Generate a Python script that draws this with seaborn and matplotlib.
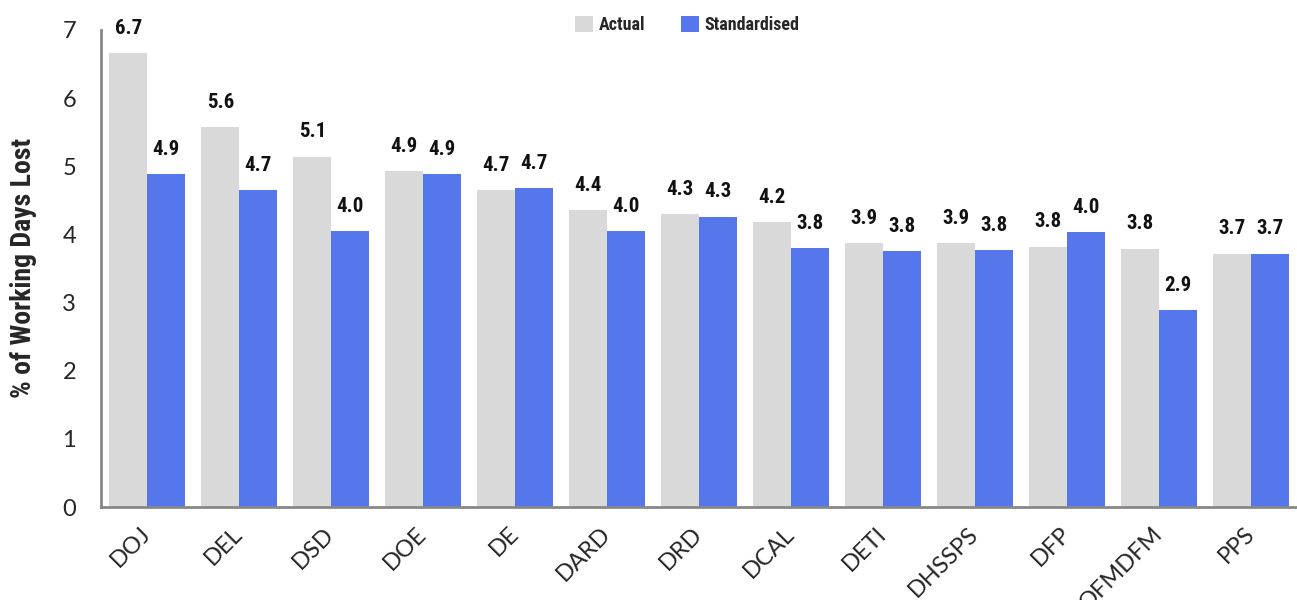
import pandas as pd
import matplotlib.pyplot as plt
import seaborn as sns
from matplotlib import font_manager
from matplotlib.ticker import FixedLocator

# Data
departments = ['DOJ', 'DEL', 'DSD', 'DOE', 'DE', 'DARD', 'DRD', 'DCAL',
               'DETI', 'DHSSPS', 'DFP', 'OFMDFM', 'PPS']
actual = [6.66, 5.57, 5.14, 4.93, 4.65, 4.36, 4.30, 4.18, 3.87, 3.87, 3.82, 3.79, 3.72]
standardised = [4.89, 4.65, 4.05, 4.89, 4.68, 4.05, 4.26, 3.80, 3.75, 3.77, 4.03, 2.89, 3.72]
series_names = ['Actual', 'Standardised']
colours = ['#D9D9D9', '#5677EC']

df = pd.DataFrame({
    'dept': departments * 2,
    'value': actual + standardised,
    'series': [series_names[0]] * len(departments) + [series_names[1]] * len(departments),
})

names = {f.name for f in font_manager.fontManager.ttflist}
narrow = [n for n in ['Roboto Condensed', 'Liberation Sans Narrow'] if n in names] + ['DejaVu Sans']

sns.set_style('white')
plt.rcParams['font.family'] = ['Lato', 'DejaVu Sans']

fig = plt.figure(figsize=(12.97, 6.0), dpi=100)
ax = fig.add_axes([0.078, 0.155, 0.922, 0.795])

sns.barplot(data=df, x='dept', y='value', hue='series', palette=colours,
            width=0.82, saturation=1, gap=0, linewidth=0, ax=ax)

# value labels
for cont in ax.containers:
    ax.bar_label(cont, fmt='%.1f', padding=11, fontsize=15, fontweight='bold',
                 color='#111111', family=narrow, fontstretch='condensed')

ax.set_ylim(0, 7)
ax.set_xlim(-0.5, len(departments) - 0.5)
ax.set_yticks(range(8))
ax.tick_params(axis='y', labelsize=17, length=6, width=1.5, color='#888888',
               direction='out', pad=12, labelfontfamily='Lato')

# category labels at centres, ticks on boundaries
ax.set_xticks(range(len(departments)))
ax.set_xticklabels(departments, rotation=45, ha='right', va='center',
                   rotation_mode='anchor')
ax.tick_params(axis='x', which='major', length=0, labelsize=17, pad=17,
               labelfontfamily='Lato')
ax.xaxis.set_minor_locator(FixedLocator([i - 0.5 for i in range(len(departments))]))
ax.tick_params(axis='x', which='minor', length=8, width=1.5, color='#888888',
               direction='out')

ax.set_xlabel('')
ax.set_ylabel('% of Working Days Lost', fontsize=20, fontweight='bold', labelpad=18,
              family=narrow, fontstretch='condensed')

for s in ['top', 'right']:
    ax.spines[s].set_visible(False)
for s in ['left', 'bottom']:
    ax.spines[s].set_color('#888888')
    ax.spines[s].set_linewidth(2)

leg = ax.legend(loc='center', bbox_to_anchor=(0.49, 1.01), ncol=2,
                frameon=False, handlelength=1.0, handleheight=1.0,
                columnspacing=2.0, handletextpad=0.3,
                prop={'family': narrow, 'size': 13, 'weight': 'bold',
                      'stretch': 'condensed'})

fig.savefig('out.png', dpi=100)
